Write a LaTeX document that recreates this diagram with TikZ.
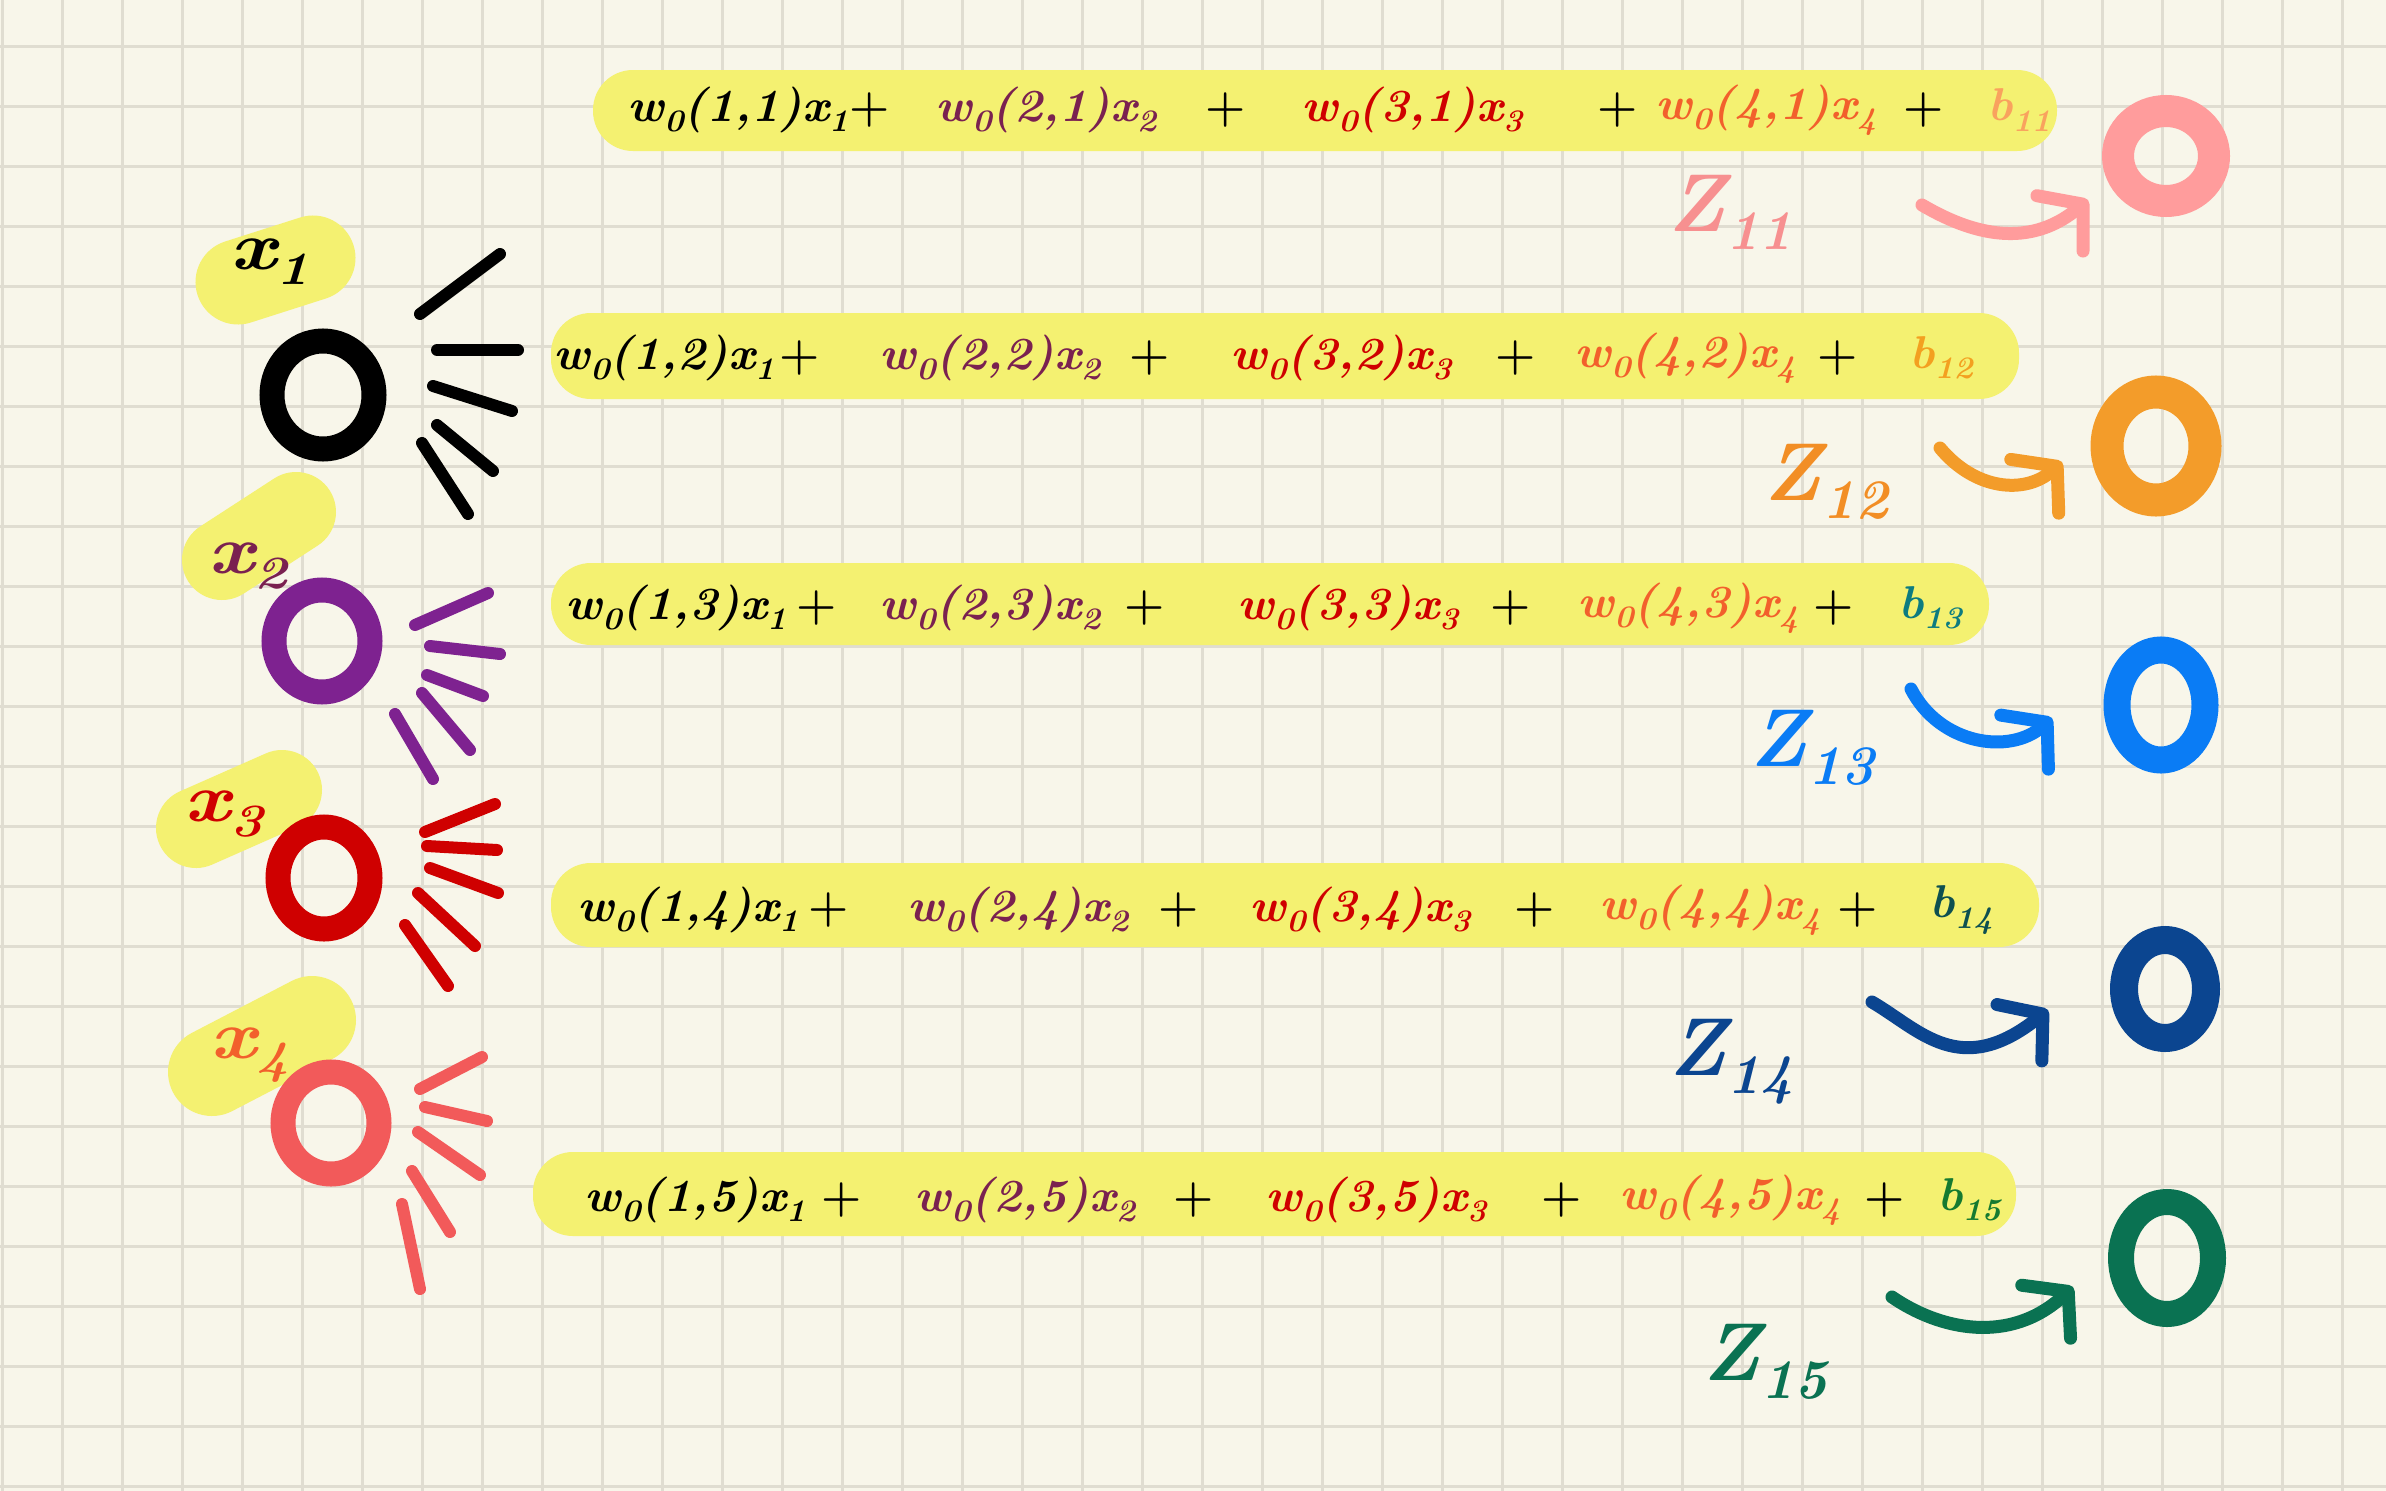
\documentclass[tikz,border=0pt]{standalone}
\usetikzlibrary{shapes.geometric,arrows.meta}
\definecolor{bg}{HTML}{F8F6EA}
\definecolor{gridc}{HTML}{E0DDD1}
\definecolor{hl}{HTML}{F4F171}
\definecolor{cpur}{HTML}{7A2150}
\definecolor{cred}{HTML}{CF0000}
\definecolor{corg}{HTML}{F2602C}
\definecolor{bA}{HTML}{F9A25E}
\definecolor{bB}{HTML}{F3A020}
\definecolor{bC}{HTML}{0D7C80}
\definecolor{bD}{HTML}{0E5050}
\definecolor{bE}{HTML}{157A30}
\definecolor{nx2}{HTML}{7E2290}
\definecolor{nx4}{HTML}{F25A5A}
\definecolor{zA}{HTML}{FF9C9C}
\definecolor{zAl}{HTML}{F79090}
\definecolor{zB}{HTML}{F39C2A}
\definecolor{zBl}{HTML}{F28E25}
\definecolor{zC}{HTML}{0A7CF5}
\definecolor{zD}{HTML}{0B4590}
\definecolor{zE}{HTML}{0A7252}
\newcommand{\sbx}[1]{\raisebox{-0.22em}{\scalebox{0.68}{#1}}}
\newcommand{\stt}[1]{\scalebox{1.04}[1]{\bfseries\itshape #1}}
\newcommand{\sttl}[1]{\scalebox{1.2}[1]{\bfseries\itshape #1}}
\tikzset{
  term/.style={inner sep=0pt, font=\fontsize{46}{52}\selectfont\bfseries},
  xlab/.style={inner sep=0pt, font=\fontsize{68}{72}\selectfont},
  zlab/.style={inner sep=0pt, font=\fontsize{82}{88}\selectfont\bfseries\itshape},
  neuron/.style={ellipse, draw, inner sep=0pt},
  ray/.style={line width=12pt, line cap=round},
  hlbar/.style={fill=hl, rounded corners=40pt},
  hlblob/.style={draw=hl, line cap=round},
  zarrow/.style={line width=13pt, line cap=round, -{Straight Barb[length=30pt,width=72pt,round]}}
}
\begin{document}
\begin{tikzpicture}[x=1pt,y=-1pt]
\useasboundingbox (0,0) rectangle (2386,1491);
\fill[bg] (0,0) rectangle (2386,1491);
\foreach \i in {0,...,39} \draw[gridc, line width=3pt] ({2+60*\i},0) -- ({2+60*\i},1491);
\foreach \j in {0,...,24} \draw[gridc, line width=3pt] (0,{46+60*\j}) -- (2386,{46+60*\j});

% highlight bars
\fill[hlbar] (593,70) rectangle (2057,151);
\fill[hlbar] (551,313) rectangle (2019,399);
\fill[hlbar] (551,563) rectangle (1989,645);
\fill[hlbar] (551,863) rectangle (2039,947);
\fill[hlbar] (533,1152) rectangle (2016,1236);

% label highlights
\draw[hlblob, line width=85pt] (238,282) -- (313,258);
\draw[hlblob, line width=80pt] (222,560) -- (296,512);
\draw[hlblob, line width=80pt] (196,828) -- (282,790);
\draw[hlblob, line width=88pt] (212,1072) -- (312,1020);

% equation rows
\foreach \k/\y/\a/\pa/\b/\pb/\c/\pc/\d/\pd/\e/\bc in {
  1/110/738/870/1046/1226/1412/1618/1766/1924/2019/bA,
  2/358/664/800/990/1150/1341/1516/1685/1838/1941/bB,
  3/608/676/817/990/1145/1348/1511/1688/1834/1930/bC,
  4/910/688/829/1018/1179/1360/1535/1710/1858/1961/bD,
  5/1200/695/842/1025/1194/1376/1562/1730/1885/1969/bE}{
  \node[term] (r\k t1) at (\a,\y) {\stt{w\sbx{0}(1,\k)x\sbx{1}}};
  \node[term] (r\k p1) at (\pa,\y) {+};
  \node[term, text=cpur] (r\k t2) at (\b,\y) {\stt{w\sbx{0}(2,\k)x\sbx{2}}};
  \node[term] (r\k p2) at (\pb,\y) {+};
  \node[term, text=cred] (r\k t3) at (\c,\y) {\stt{w\sbx{0}(3,\k)x\sbx{3}}};
  \node[term] (r\k p3) at (\pc,\y) {+};
  \node[term, text=corg] (r\k t4) at (\d,\y) {\stt{w\sbx{0}(4,\k)x\sbx{4}}};
  \node[term] (r\k p4) at (\pd,\y) {+};
  \node[term, text=\bc] (r\k b) at (\e,\y) {\stt{b\sbx{1\k}}};
}

% input labels
\node[xlab] (lx1) at (270,262) {\sttl{x\sbx{1}}};
\node[xlab, text=cpur] (lx2) at (248,566) {\sttl{x\sbx{2}}};
\node[xlab, text=cred] (lx3) at (224,814) {\sttl{x\sbx{3}}};
\node[xlab, text=corg] (lx4) at (250,1055) {\sttl{x\sbx{4}}};

% input neurons
\node[neuron, line width=25pt, draw=black, minimum width=102pt, minimum height=108pt] (x1) at (323,395) {};
\node[neuron, line width=25pt, draw=nx2, minimum width=96pt, minimum height=102pt] (x2) at (322,641) {};
\node[neuron, line width=25pt, draw=cred, minimum width=92pt, minimum height=102pt] (x3) at (324,878) {};
\node[neuron, line width=25pt, draw=nx4, minimum width=96pt, minimum height=102pt] (x4) at (331,1123) {};

% rays
\draw[ray, black] (420,314) -- (500,254);
\draw[ray, black] (437,350) -- (518,350);
\draw[ray, black] (433,386) -- (512,411);
\draw[ray, black] (437,425) -- (493,471);
\draw[ray, black] (422,443) -- (468,514);
\draw[ray, nx2] (415,625) -- (488,593);
\draw[ray, nx2] (430,646) -- (500,654);
\draw[ray, nx2] (427,675) -- (483,696);
\draw[ray, nx2] (422,693) -- (470,750);
\draw[ray, nx2] (395,714) -- (433,779);
\draw[ray, cred] (425,832) -- (495,804);
\draw[ray, cred] (427,846) -- (497,850);
\draw[ray, cred] (430,868) -- (498,893);
\draw[ray, cred] (418,893) -- (475,946);
\draw[ray, cred] (405,925) -- (448,986);
\draw[ray, nx4] (420,1089) -- (482,1057);
\draw[ray, nx4] (425,1107) -- (487,1121);
\draw[ray, nx4] (418,1132) -- (480,1175);
\draw[ray, nx4] (412,1171) -- (450,1232);
\draw[ray, nx4] (402,1204) -- (420,1289);

% output neurons
\node[neuron, line width=32pt, draw=zA, minimum width=96pt, minimum height=90pt] (z11) at (2166,156) {};
\node[neuron, line width=33pt, draw=zB, minimum width=98pt, minimum height=108pt] (z12) at (2156,446) {};
\node[neuron, line width=27pt, draw=zC, minimum width=88pt, minimum height=110pt] (z13) at (2161,705) {};
\node[neuron, line width=28pt, draw=zD, minimum width=82pt, minimum height=98pt] (z14) at (2165,989) {};
\node[neuron, line width=26pt, draw=zE, minimum width=92pt, minimum height=112pt] (z15) at (2167,1258) {};

% z labels
\node[zlab, text=zAl] (lz11) at (1730,212) {Z\sbx{11}};
\node[zlab, text=zBl] (lz12) at (1826,482) {Z\sbx{12}};
\node[zlab, text=zC] (lz13) at (1812,748) {Z\sbx{13}};
\node[zlab, text=zD] (lz14) at (1731,1062) {Z\sbx{14}};
\node[zlab, text=zE] (lz15) at (1765,1362) {Z\sbx{15}};

% arrows
\coordinate (a11s) at (1922,205); \coordinate (a11e) at (2088,200);
\coordinate (a12s) at (1940,448); \coordinate (a12e) at (2062,462);
\coordinate (a13s) at (1911,689); \coordinate (a13e) at (2052,718);
\coordinate (a14s) at (1872,1002); \coordinate (a14e) at (2048,1010);
\coordinate (a15s) at (1892,1297); \coordinate (a15e) at (2073,1287);
\draw[zarrow, zA] (a11s) .. controls (1990,245) and (2040,240) .. (a11e);
\draw[zarrow, zB] (a12s) .. controls (1975,490) and (2025,495) .. (a12e);
\draw[zarrow, zC] (a13s) .. controls (1940,745) and (2010,755) .. (a13e);
\draw[zarrow, zD] (a14s) .. controls (1920,1030) and (1960,1080) .. (a14e);
\draw[zarrow, zE] (a15s) .. controls (1940,1330) and (2010,1345) .. (a15e);
\end{tikzpicture}
\end{document}
